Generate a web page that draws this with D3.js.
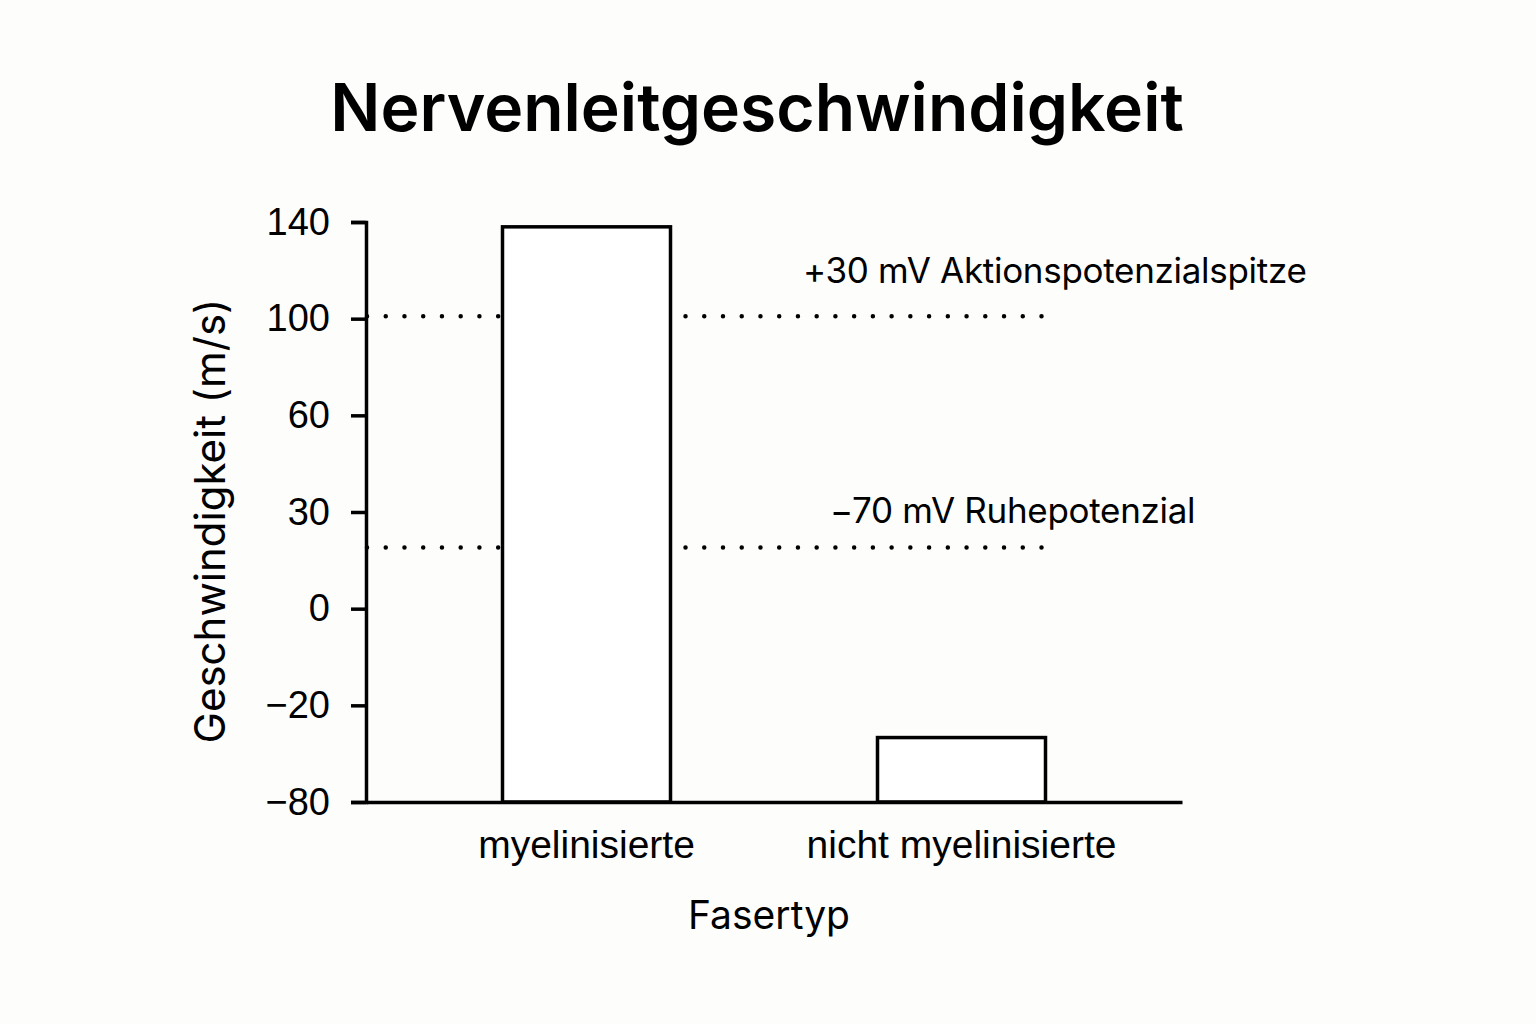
<!DOCTYPE html>
<html lang="de">
<head>
<meta charset="UTF-8">
<title>Nervenleitgeschwindigkeit</title>
<script src="https://d3js.org/d3.v7.min.js"></script>
<style>
    body { margin: 0; background: #fdfdfc; }
    svg { display: block; font-family: Inter, "Noto Sans", sans-serif; }
    .axis path, .axis line { stroke: #000; stroke-width: 3.5; }
    .axis text { fill: #000; }
</style>
</head>
<body>
<div id="chart"></div>
<script>
// y axis: category-like ticks, evenly spaced
const yTicks = [140, 100, 60, 30, 0, -20, -80];

// bars
const fiberTypes = ["myelinisierte", "nicht myelinisierte"];
const speeds = [138, -40];

// reference lines
const refValues = [101, 19];
const refLabels = ["+30 mV Aktionspotenzialspitze", "−70 mV Ruhepotenzial"];

const W = 1536, H = 1024;
const margin = { top: 222, right: 354, bottom: 222, left: 366 };
const width = W - margin.left - margin.right;
const height = H - margin.top - margin.bottom;

const root = d3.select("#chart").append("svg")
    .attr("width", W)
    .attr("height", H);

root.append("rect").attr("width", W).attr("height", H).attr("fill", "#fdfdfc");

const svg = root.append("g")
    .attr("transform", `translate(${margin.left},${margin.top})`);

// evenly spaced tick positions, then piecewise linear between them
const tickPos = d3.scalePoint().domain(yTicks).range([0, height]);
const y = d3.scaleLinear()
    .domain(yTicks)
    .range(yTicks.map(v => tickPos(v)));

const x = d3.scaleBand()
    .domain(fiberTypes)
    .range([0, width])
    .paddingInner(0.552)
    .paddingOuter(0.364);

// dotted reference lines (behind bars)
const lineEnd = x(fiberTypes[1]) + x.bandwidth() - 5;
const dotGap = lineEnd / 36;
svg.selectAll(".ref")
    .data(refValues)
    .join("line")
    .attr("class", "ref")
    .attr("x1", 1)
    .attr("x2", lineEnd + dotGap / 2)
    .attr("y1", d => y(d))
    .attr("y2", d => y(d))
    .attr("stroke", "#000")
    .attr("stroke-width", 4.5)
    .attr("stroke-linecap", "round")
    .attr("stroke-dasharray", `0 ${dotGap}`);

const labelX = [437, 464];
const labelDy = [-33, -24];
svg.selectAll(".ref-label")
    .data(refValues)
    .join("text")
    .attr("class", "ref-label")
    .attr("x", (d, i) => labelX[i])
    .attr("y", (d, i) => y(d) + labelDy[i])
    .attr("font-size", 35)
    .attr("letter-spacing", "-0.3")
    .text((d, i) => refLabels[i]);

// bars
svg.selectAll(".bar")
    .data(speeds)
    .join("rect")
    .attr("class", "bar")
    .attr("x", (d, i) => x(fiberTypes[i]))
    .attr("width", x.bandwidth())
    .attr("y", d => y(d))
    .attr("height", d => y(-80) - y(d))
    .attr("fill", "#fff")
    .attr("stroke", "#000")
    .attr("stroke-width", 3.5);

// axes
const yAxis = svg.append("g")
    .attr("class", "axis")
    .call(d3.axisLeft(y)
        .tickValues(yTicks)
        .tickSize(15)
        .tickSizeOuter(15)
        .tickPadding(21)
        .tickFormat(d3.format("d")));
yAxis.selectAll("text").attr("font-size", 38);

const xAxis = svg.append("g")
    .attr("class", "axis")
    .attr("transform", `translate(0,${height})`)
    .call(d3.axisBottom(x).tickSize(0).tickSizeOuter(0).tickPadding(28));
xAxis.selectAll("text").attr("font-size", 39);

// titles
root.append("text")
    .attr("x", 757)
    .attr("y", 131)
    .attr("text-anchor", "middle")
    .attr("font-size", 66)
    .attr("font-weight", 600)
    .text("Nervenleitgeschwindigkeit");

svg.append("text")
    .attr("x", width / 2 - 5)
    .attr("y", height + 127)
    .attr("text-anchor", "middle")
    .attr("font-size", 39)
    .text("Fasertyp");

svg.append("text")
    .attr("transform", `translate(-141,${height / 2 + 9}) rotate(-90)`)
    .attr("text-anchor", "middle")
    .attr("font-size", 42)
    .text("Geschwindigkeit (m/s)");
</script>
</body>
</html>
